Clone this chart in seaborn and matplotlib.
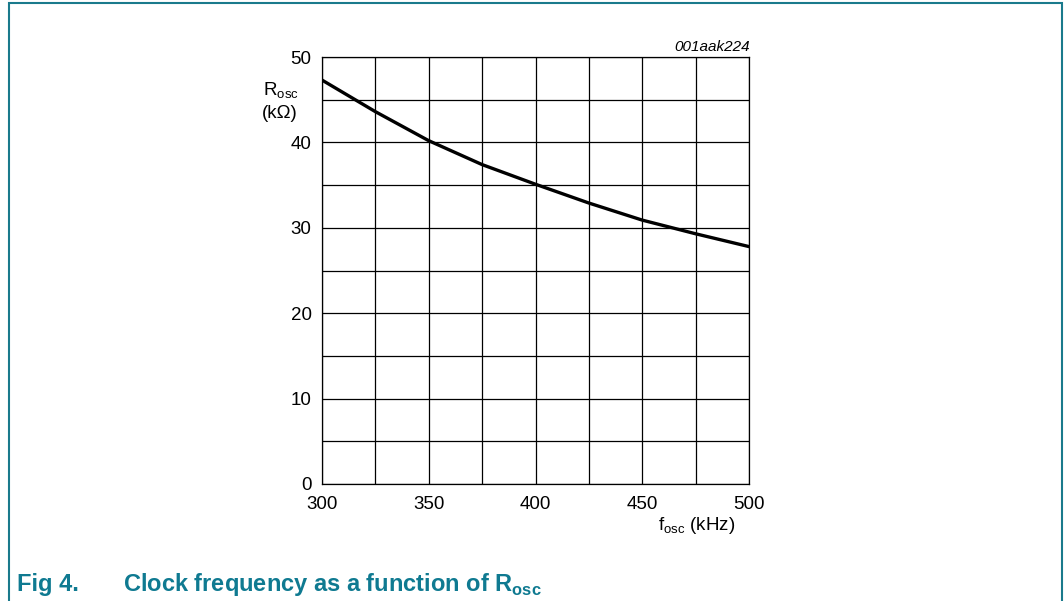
import matplotlib
matplotlib.use("Agg")
import matplotlib.pyplot as plt
import seaborn as sns
import pandas as pd
from matplotlib.patches import Rectangle

f_khz = [300, 325, 350, 375, 400, 425, 450, 475, 500]
r_kohm = [47.3, 43.6, 40.2, 37.4, 35.1, 32.9, 30.9, 29.3, 27.8]
x_ticks = [300, 350, 400, 450, 500]
y_ticks = [0, 10, 20, 30, 40, 50]

sns.set_theme(style="white")
plt.rcParams['font.family'] = ['Liberation Sans', 'DejaVu Sans']
plt.rcParams['mathtext.fontset'] = 'custom'
plt.rcParams['mathtext.rm'] = 'Liberation Sans'
plt.rcParams['mathtext.bf'] = 'Liberation Sans:bold'
plt.rcParams['text.color'] = 'black'

W, H = 1064, 601
teal = '#0f7a91'
fig = plt.figure(figsize=(W / 100, H / 100), dpi=100)
ax = fig.add_axes([322 / W, 117 / H, 427 / W, 427 / H])

df = pd.DataFrame({"f": f_khz, "R": r_kohm})
sns.lineplot(data=df, x="f", y="R", ax=ax, color="black", linewidth=2.4)

ax.set_xlim(300, 500)
ax.set_ylim(0, 50)
ax.set_xticks(x_ticks)
ax.set_yticks(y_ticks)
ax.set_xticks(range(300, 501, 25), minor=True)
ax.set_yticks(range(0, 51, 5), minor=True)
ax.grid(True, which='both', color='black', linewidth=0.9)
ax.tick_params(which='both', length=0, labelsize=13.5, colors='black')
ax.tick_params(axis='x', pad=8.5)
ax.tick_params(axis='y', pad=7.5)
for s in ax.spines.values():
    s.set_color('black')
    s.set_linewidth(0.9)
ax.set_xlabel("")
ax.set_ylabel("")

def fy(px):
    return 1 - px / H

def fx(px):
    return px / W

fig.text(fx(281), fy(96), "R$_\\mathregular{osc}$", ha='center', va='baseline', fontsize=13.5)
fig.text(fx(280), fy(118), "(k\u03a9)", ha='center', va='baseline', fontsize=13.5)
fig.text(fx(735), fy(530), "f$_\\mathregular{osc}$ (kHz)", ha='right', va='baseline', fontsize=13.5)
fig.text(fx(750), fy(51), "001aak224", ha='right', va='baseline', fontsize=11, style='italic')

fig.text(fx(17), fy(591), "Fig 4.", color=teal, fontsize=17, fontweight='bold',
         va='baseline', ha='left')
fig.text(fx(123), fy(591), "Clock frequency as a function of R$_\\mathbf{osc}$",
         color=teal, fontsize=17, fontweight='bold', va='baseline', ha='left')

fig.patches.append(Rectangle((9 / W, -0.05), (1062 - 9) / W, 1.05 - 3.5 / H,
                             transform=fig.transFigure, fill=False,
                             edgecolor='#1a7a8c', linewidth=1.5))

fig.savefig("out.png", dpi=100, facecolor='white')
